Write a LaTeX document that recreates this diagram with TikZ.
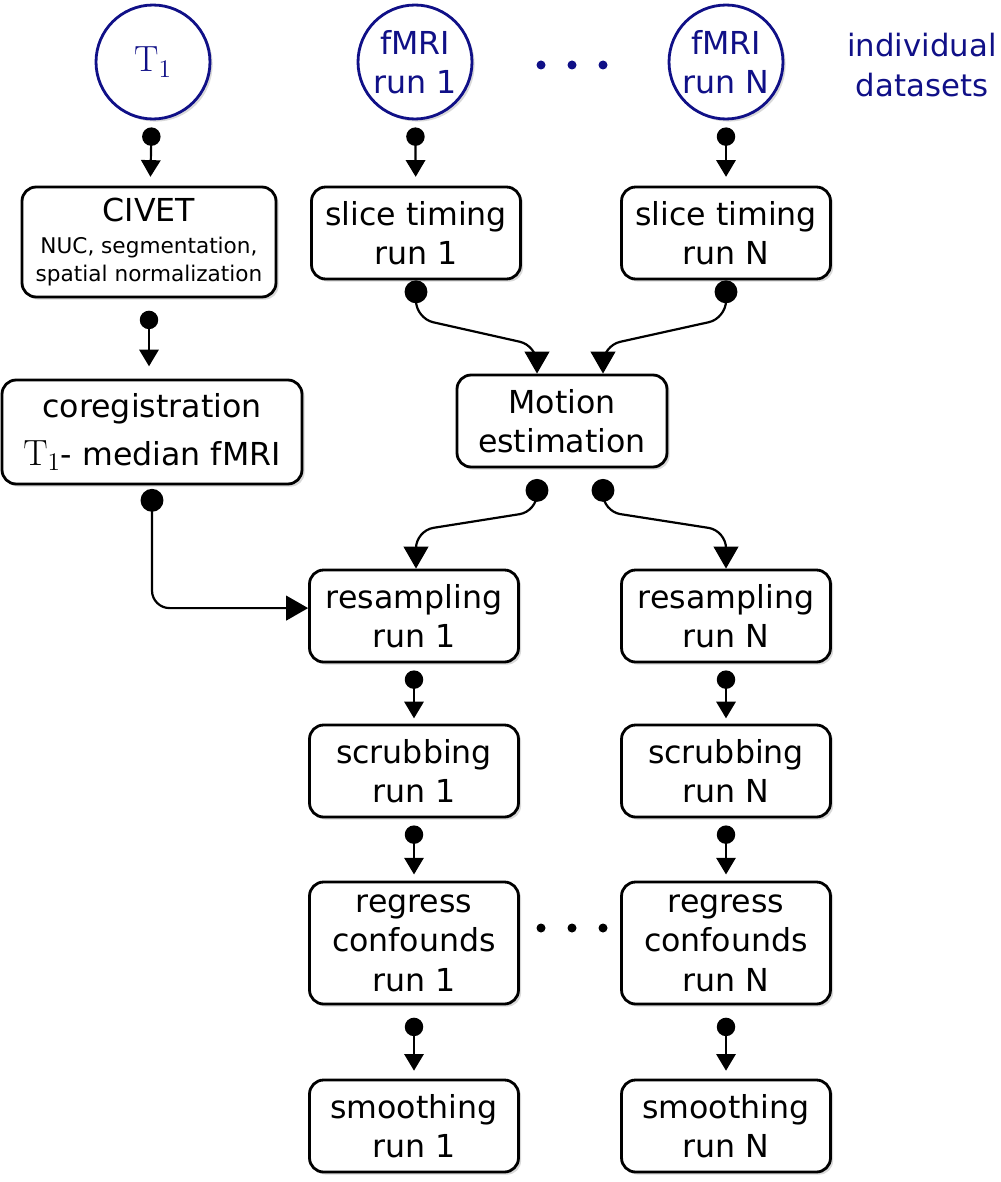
\documentclass[tikz,border=0pt]{standalone}
\usepackage[no-math]{fontspec}
\setmainfont{DejaVu Sans}
\usepackage{tikz}
\usepackage{amsmath, amssymb}
\usetikzlibrary{arrows.meta, shadows, calc}

\definecolor{dsblue}{RGB}{16,16,135}
\newcommand{\bigtxt}{\fontsize{18}{22.5}\selectfont}
\newcommand{\smalltxt}{\fontsize{12.3}{15.5}\selectfont}

\tikzset{
  stage/.style = {draw, fill = white, line width = 1.6pt, rounded corners = 8pt,
    align = center, inner sep = 2pt, font = \bigtxt,
    minimum width = 4.18cm, minimum height = 1.84cm,
    drop shadow = {opacity = 0.3, shadow xshift = 1.5pt, shadow yshift = -1.5pt}},
  dataset/.style = {circle, draw = dsblue, text = dsblue, fill = white,
    line width = 1.6pt, minimum size = 2.28cm, inner sep = 0pt,
    align = center, font = \bigtxt,
    drop shadow = {opacity = 0.3, shadow xshift = 1.5pt, shadow yshift = -1.5pt}},
  link/.style = {line width = 1.25pt,
    {Circle[length = 10.5pt]}-{Triangle[length = 9.5pt, width = 11pt]},
    shorten <= 4pt, shorten >= 3pt},
  flow/.style = {line width = 1.25pt, rounded corners = 10pt,
    {Circle[length = 13pt]}-{Triangle[length = 12.5pt, width = 14pt]}}
}

\begin{document}
\begin{tikzpicture}[x = 0.02cm, y = -0.02cm]
      \useasboundingbox (0, 0) rectangle (1000, 1182);

      % input data
      \node [dataset] (t1) at (153, 62) {\fontsize{21}{24}\selectfont $\mathrm{T}_1$};
      \node [dataset] (fmriA) at (415, 62) {fMRI\\run 1};
      \node [dataset] (fmriN) at (726, 62) {fMRI\\run N};
      \node [text = dsblue, align = center, font = \fontsize{17.5}{22.5}\selectfont]
        (label) at (922, 65) {individual\\datasets};
      \foreach \x in {541, 572, 603}{
        \fill [dsblue] (\x, 65) circle [radius = 4.5];
        \fill (\x, 928) circle [radius = 4.5];
      }

      % anatomical branch
      \node [stage, minimum width = 5.08cm, minimum height = 2.2cm] (civet) at (149, 242)
        {CIVET\\[-4.5pt]\smalltxt NUC, segmentation,\\[-6.5pt]\smalltxt spatial normalization};
      \node [stage, minimum width = 6.0cm, minimum height = 2.08cm] (coreg) at (152, 432)
        {coregistration\\[5pt]{\fontsize{20}{24}\selectfont $\mathrm{T}_1$}- median fMRI};

      % functional branch
      \node [stage] (sliceA) at (416, 233) {slice timing\\run 1};
      \node [stage] (sliceN) at (726, 233) {slice timing\\run N};
      \node [stage, minimum width = 4.2cm] (motion) at (562, 421) {Motion\\estimation};
      \node [stage] (resampA) at (414, 616) {resampling\\run 1};
      \node [stage] (resampN) at (726, 616) {resampling\\run N};
      \node [stage] (scrubA) at (414, 771) {scrubbing\\run 1};
      \node [stage] (scrubN) at (726, 771) {scrubbing\\run N};
      \node [stage, minimum height = 2.44cm] (regressA) at (414, 943) {regress\\confounds\\run 1};
      \node [stage, minimum height = 2.44cm] (regressN) at (726, 943) {regress\\confounds\\run N};
      \node [stage] (smoothA) at (414, 1126) {smoothing\\run 1};
      \node [stage] (smoothN) at (726, 1126) {smoothing\\run N};

      % connections
      \draw [link, shorten >= 5pt] (t1) -- (civet);
      \draw [link, shorten >= 5pt] (fmriA) -- (sliceA);
      \draw [link, shorten >= 5pt] (fmriN) -- (sliceN);
      \draw [link, shorten <= 7pt, shorten >= 7pt] (civet.south) -- (civet.south |- coreg.north);
      \draw [flow, shorten <= 2pt] (coreg.south) |- ([yshift = 4.5pt] resampA.west);
      \draw [flow] (sliceA.south) -- ++(0, 38) -- ($(motion.north) + (-25, -28)$)
        -- ($(motion.north) + (-25, 0)$);
      \draw [flow] (sliceN.south) -- ++(0, 38) -- ($(motion.north) + (41, -28)$)
        -- ($(motion.north) + (41, 0)$);
      \draw [flow, shorten <= 6pt] ($(motion.south) + (-25, 0)$) -- ++(0, 43)
        -- ($(resampA.north) + (2, -38)$) -- ($(resampA.north) + (2, 0)$);
      \draw [flow, shorten <= 6pt] ($(motion.south) + (41, 0)$) -- ++(0, 43)
        -- ($(resampN.north) + (0, -38)$) -- (resampN.north);
      \foreach \col in {A, N}{
        \draw [link] (resamp\col) -- (scrub\col);
        \draw [link, shorten >= 3.5pt] (scrub\col) -- (regress\col);
        \draw [link, shorten <= 7pt, shorten >= 4.5pt] (regress\col) -- (smooth\col);
      }
    \end{tikzpicture}
\end{document}
